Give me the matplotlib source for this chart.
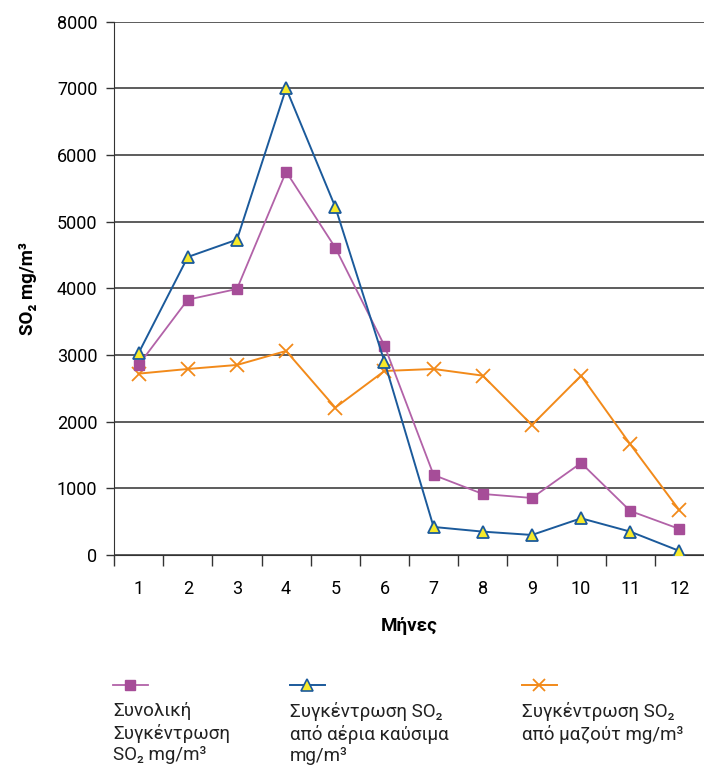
import matplotlib.pyplot as plt
from matplotlib.lines import Line2D

plt.rcParams['font.family'] = ['Roboto', 'DejaVu Sans']

# months and series values (mg/m3)
months = [1, 2, 3, 4, 5, 6, 7, 8, 9, 10, 11, 12]
total_so2 = [2850, 3830, 3990, 5750, 4610, 3140, 1200, 915, 855, 1380, 660, 390]
gas_so2 = [3030, 4470, 4730, 7000, 5220, 2900, 420, 350, 300, 550, 350, 60]
oil_so2 = [2720, 2790, 2850, 3060, 2210, 2760, 2790, 2690, 1950, 2690, 1660, 670]

labels = [
    "Συνολική\nΣυγκέντρωση\nSO₂ mg/m³",
    "Συγκέντρωση SO₂\nαπό αέρια καύσιμα\nmg/m³",
    "Συγκέντρωση SO₂\nαπό μαζούτ mg/m³",
]

purple = '#a64d98'
blue = '#1b5a9b'
orange = '#f28a1a'

fig = plt.figure(figsize=(7.04, 7.74), dpi=100)
ax = fig.add_axes([0.162, 0.283, 0.838, 0.689])

ax.plot(months, total_so2, color='#b262a8', lw=1.3, marker='s', ms=6.5,
        mfc=purple, mec=purple, zorder=3)
ax.plot(months, gas_so2, color=blue, lw=1.4, marker='^', ms=9,
        mfc='#f7ea2a', mec=blue, mew=1.3, zorder=4)
ax.plot(months, oil_so2, color=orange, lw=1.4, marker='x', ms=10,
        mew=1.3, zorder=2)

ax.set_xlim(0.5, 12.5)
ax.set_ylim(0, 8000)
ax.set_yticks(range(0, 8001, 1000))
ax.set_xticks(months)
ax.set_xticks([m + 0.5 for m in range(0, 12)], minor=True)
ax.tick_params(axis='x', which='major', length=0, pad=18, labelsize=13)
ax.tick_params(axis='x', which='minor', length=8, width=1, color='#333333')
ax.tick_params(axis='y', length=6, width=1, color='#333333', labelsize=13, pad=6)
ax.grid(axis='y', color='#303030', lw=1.1)
ax.set_axisbelow(True)

for s in ['top', 'right']:
    ax.spines[s].set_visible(False)
for s in ['left', 'bottom']:
    ax.spines[s].set_color('#333333')

ax.set_xlabel('Μήνες', fontsize=13.5, fontweight='bold', labelpad=14)
ax.set_ylabel('SO₂ mg/m³', fontsize=13.5, fontweight='bold', labelpad=14)

# legend drawn below, handle above multi-line text
leg_x = [113, 290, 522]
styles = [
    dict(color='#b262a8', marker='s', ms=6.5, mfc=purple, mec=purple, lw=1.3),
    dict(color=blue, marker='^', ms=8, mfc='#f7ea2a', mec=blue, mew=1.2, lw=1.4),
    dict(color=orange, marker='x', ms=9, mew=1.3, lw=1.4),
]
W, H = 704, 774
for x0, st, lab in zip(leg_x, styles, labels):
    ln = Line2D([x0 / W, (x0 + 17) / W, (x0 + 35) / W], [1 - 685 / H] * 3,
                transform=fig.transFigure, markevery=[1], **st)
    fig.add_artist(ln)
    fig.text(x0 / W, 1 - 702 / H, lab, fontsize=13.5, va='top', ha='left',
             linespacing=1.25, color='#222222')

fig.savefig('out.png', dpi=100)
